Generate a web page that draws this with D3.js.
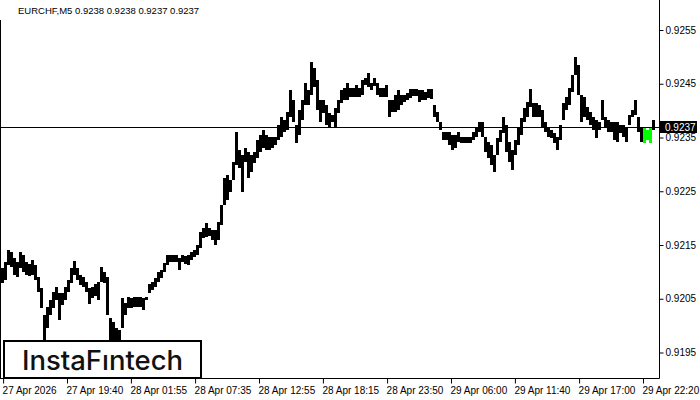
<!DOCTYPE html>
<html>
<head>
<meta charset="utf-8">
<script src="https://cdn.jsdelivr.net/npm/d3@7"></script>
<style>
  body { margin: 0; background: #fff; }
  svg { display: block; }
  .axis text { font: 10px "Liberation Sans", Arial, sans-serif; fill: #000; }
</style>
</head>
<body>
<svg id="chart" width="700" height="400"></svg>
<script>
// EURCHF M5, each slot = three 5-minute bars (high / low)
var highs = [
  0.92107, 0.92118, 0.92141, 0.92137, 0.92126, 0.92118, 0.92137, 0.92131, 0.92118, 0.92115,
  0.92122, 0.92113, 0.92090, 0.92070, 0.92020, 0.92035, 0.92048, 0.92063, 0.92072, 0.92061,
  0.92061, 0.92072, 0.92085, 0.92107, 0.92120, 0.92107, 0.92094, 0.92090, 0.92081, 0.92070,
  0.92072, 0.92077, 0.92081, 0.92109, 0.92100, 0.92090, 0.92014, 0.92007, 0.91996, 0.91992,
  0.92051, 0.92042, 0.92053, 0.92051, 0.92053, 0.92053, 0.92053, 0.92051, 0.92053, 0.92077,
  0.92081, 0.92089, 0.92100, 0.92103, 0.92117, 0.92131, 0.92131, 0.92131, 0.92131, 0.92126,
  0.92131, 0.92130, 0.92131, 0.92137, 0.92141, 0.92150, 0.92174, 0.92182, 0.92191, 0.92182,
  0.92178, 0.92178, 0.92193, 0.92224, 0.92275, 0.92280, 0.92271, 0.92304, 0.92360, 0.92327,
  0.92317, 0.92330, 0.92323, 0.92317, 0.92323, 0.92345, 0.92355, 0.92364, 0.92355, 0.92351,
  0.92351, 0.92351, 0.92373, 0.92388, 0.92383, 0.92397, 0.92438, 0.92420, 0.92373, 0.92401,
  0.92420, 0.92451, 0.92438, 0.92490, 0.92479, 0.92457, 0.92420, 0.92420, 0.92410, 0.92396,
  0.92392, 0.92405, 0.92420, 0.92438, 0.92442, 0.92451, 0.92442, 0.92442, 0.92448, 0.92442,
  0.92457, 0.92461, 0.92470, 0.92451, 0.92461, 0.92451, 0.92442, 0.92442, 0.92448, 0.92420,
  0.92420, 0.92429, 0.92438, 0.92429, 0.92429, 0.92433, 0.92440, 0.92440, 0.92440, 0.92438,
  0.92438, 0.92435, 0.92440, 0.92440, 0.92410, 0.92397, 0.92379, 0.92360, 0.92360, 0.92360,
  0.92355, 0.92355, 0.92360, 0.92351, 0.92351, 0.92351, 0.92351, 0.92360, 0.92368, 0.92379,
  0.92379, 0.92351, 0.92342, 0.92336, 0.92317, 0.92349, 0.92364, 0.92388, 0.92373, 0.92342,
  0.92327, 0.92345, 0.92368, 0.92386, 0.92405, 0.92416, 0.92440, 0.92414, 0.92414, 0.92410,
  0.92401, 0.92379, 0.92368, 0.92364, 0.92358, 0.92351, 0.92373, 0.92414, 0.92425, 0.92442,
  0.92466, 0.92500, 0.92485, 0.92429, 0.92425, 0.92407, 0.92397, 0.92388, 0.92383, 0.92379,
  0.92420, 0.92388, 0.92383, 0.92379, 0.92379, 0.92379, 0.92373, 0.92373, 0.92370, 0.92392,
  0.92401, 0.92420, 0.92388, 0.92370, 0.92370, 0.92364, 0.92370, 0.92383
];
var lows = [
  0.92079, 0.92085, 0.92113, 0.92109, 0.92094, 0.92090, 0.92107, 0.92100, 0.92094, 0.92092,
  0.92094, 0.92085, 0.92063, 0.92033, 0.91971, 0.91996, 0.92020, 0.92033, 0.92048, 0.92010,
  0.92038, 0.92048, 0.92063, 0.92079, 0.92094, 0.92085, 0.92076, 0.92072, 0.92063, 0.92040,
  0.92051, 0.92055, 0.92048, 0.92081, 0.92079, 0.92020, 0.91971, 0.91971, 0.91971, 0.91971,
  0.91996, 0.92020, 0.92033, 0.92033, 0.92035, 0.92035, 0.92035, 0.92029, 0.92048, 0.92061,
  0.92066, 0.92072, 0.92081, 0.92089, 0.92100, 0.92113, 0.92118, 0.92118, 0.92118, 0.92103,
  0.92118, 0.92115, 0.92113, 0.92122, 0.92128, 0.92131, 0.92144, 0.92163, 0.92165, 0.92167,
  0.92159, 0.92150, 0.92159, 0.92187, 0.92224, 0.92234, 0.92249, 0.92271, 0.92299, 0.92293,
  0.92249, 0.92304, 0.92275, 0.92286, 0.92303, 0.92312, 0.92323, 0.92330, 0.92327, 0.92327,
  0.92330, 0.92336, 0.92345, 0.92351, 0.92360, 0.92364, 0.92388, 0.92379, 0.92340, 0.92355,
  0.92383, 0.92410, 0.92410, 0.92429, 0.92444, 0.92401, 0.92379, 0.92396, 0.92373, 0.92370,
  0.92379, 0.92370, 0.92396, 0.92414, 0.92420, 0.92420, 0.92425, 0.92425, 0.92425, 0.92425,
  0.92429, 0.92448, 0.92444, 0.92438, 0.92446, 0.92429, 0.92425, 0.92425, 0.92425, 0.92388,
  0.92397, 0.92397, 0.92401, 0.92410, 0.92416, 0.92420, 0.92423, 0.92427, 0.92427, 0.92416,
  0.92420, 0.92420, 0.92423, 0.92422, 0.92388, 0.92379, 0.92364, 0.92345, 0.92345, 0.92336,
  0.92327, 0.92330, 0.92342, 0.92340, 0.92340, 0.92340, 0.92340, 0.92345, 0.92351, 0.92360,
  0.92351, 0.92323, 0.92312, 0.92299, 0.92286, 0.92317, 0.92342, 0.92358, 0.92323, 0.92304,
  0.92290, 0.92317, 0.92336, 0.92355, 0.92379, 0.92388, 0.92407, 0.92388, 0.92388, 0.92388,
  0.92370, 0.92360, 0.92351, 0.92349, 0.92340, 0.92327, 0.92345, 0.92383, 0.92401, 0.92410,
  0.92435, 0.92466, 0.92429, 0.92379, 0.92388, 0.92383, 0.92373, 0.92364, 0.92349, 0.92364,
  0.92383, 0.92368, 0.92360, 0.92360, 0.92345, 0.92342, 0.92358, 0.92351, 0.92342, 0.92373,
  0.92388, 0.92392, 0.92360, 0.92342, 0.92340, 0.92345, 0.92340, 0.92364
];
// slots drawn in green by the pattern highlight
var greenSlots = [214, 215, 216];

var priceTicks = [0.9195, 0.9205, 0.9215, 0.9225, 0.9235, 0.9245, 0.9255];
var timeLabels = ["27 Apr 2026", "27 Apr 19:40", "28 Apr 01:55", "28 Apr 07:35", "28 Apr 12:55",
  "28 Apr 18:15", "28 Apr 23:50", "29 Apr 06:00", "29 Apr 11:40", "29 Apr 17:00", "29 Apr 22:20"];
var timeSlots = [0.7, 22, 43.3, 64.7, 86, 107.3, 128.7, 150, 171.3, 192.7, 214];
var lastPrice = 0.9237;
var title = "EURCHF,M5  0.9238 0.9238 0.9237 0.9237";

var svg = d3.select("#chart"),
    plotRight = 659.5,
    plotBottom = 378.5;

var x = d3.scaleLinear().domain([0, highs.length]).range([1, 1 + 3 * highs.length]);
var y = d3.scaleLinear().domain([0.9195, 0.9255]).range([352.5, 30]);

var bars = svg.append("g");
bars.selectAll("rect")
    .data(highs)
    .enter().append("rect")
    .attr("x", function(d, i) { return x(i); })
    .attr("width", x(1) - x(0))
    .attr("y", function(d) { return Math.round(y(d)); })
    .attr("height", function(d, i) { return Math.max(1, Math.round(y(lows[i])) - Math.round(y(d))); })
    .attr("fill", function(d, i) { return greenSlots.indexOf(i) >= 0 ? "#00ff00" : "#000"; });

// current price line
svg.append("line")
    .attr("x1", 0).attr("x2", plotRight)
    .attr("y1", Math.round(y(lastPrice)) + 0.5).attr("y2", Math.round(y(lastPrice)) + 0.5)
    .attr("stroke", "#000");

// frame
svg.append("line").attr("x1", 0.5).attr("x2", 0.5).attr("y1", 20).attr("y2", plotBottom).attr("stroke", "#000");
svg.append("line").attr("x1", plotRight).attr("x2", plotRight).attr("y1", 0).attr("y2", plotBottom).attr("stroke", "#000");
svg.append("line").attr("x1", 0).attr("x2", plotRight).attr("y1", plotBottom).attr("y2", plotBottom).attr("stroke", "#000");

var yAxis = svg.append("g")
    .attr("class", "axis")
    .attr("transform", "translate(" + plotRight + ",0)")
    .call(d3.axisRight(y).tickValues(priceTicks).tickFormat(d3.format(".4f")).tickSize(4).tickPadding(2));
yAxis.select(".domain").remove();

var xAxis = svg.append("g")
    .attr("class", "axis")
    .attr("transform", "translate(0," + plotBottom + ")")
    .call(d3.axisBottom(x).tickValues(timeSlots).tickFormat(function(d, i) { return timeLabels[i]; }).tickSize(5).tickPadding(3));
xAxis.select(".domain").remove();
xAxis.selectAll("text").attr("text-anchor", "start").attr("dx", -1);

// last price tag
var tag = svg.append("g").attr("transform", "translate(660," + Math.round(y(lastPrice)) + ")");
tag.append("rect").attr("x", 0).attr("y", -6).attr("width", 37).attr("height", 12).attr("fill", "#000");
tag.append("text").attr("x", 5).attr("y", 4)
    .style("font", "10px 'Liberation Sans', Arial, sans-serif").attr("fill", "#fff")
    .text(d3.format(".4f")(lastPrice));

// title
svg.append("rect").attr("x", 0).attr("y", 0).attr("width", 205).attr("height", 19).attr("fill", "#fff");
svg.append("text").attr("x", 18).attr("y", 14)
    .style("font", "9.5px 'Liberation Sans', Arial, sans-serif")
    .text(title);

// logo
svg.append("rect").attr("x", 4).attr("y", 341).attr("width", 197).attr("height", 37)
    .attr("fill", "#fff").attr("stroke", "#000").attr("stroke-width", 2);
svg.append("text").attr("x", 22).attr("y", 370)
    .style("font", "500 27px Inter, 'Open Sans', sans-serif")
    .attr("textLength", 161).attr("lengthAdjust", "spacingAndGlyphs")
    .attr("fill", "#111")
    .text("InstaFıntech");
</script>
</body>
</html>
